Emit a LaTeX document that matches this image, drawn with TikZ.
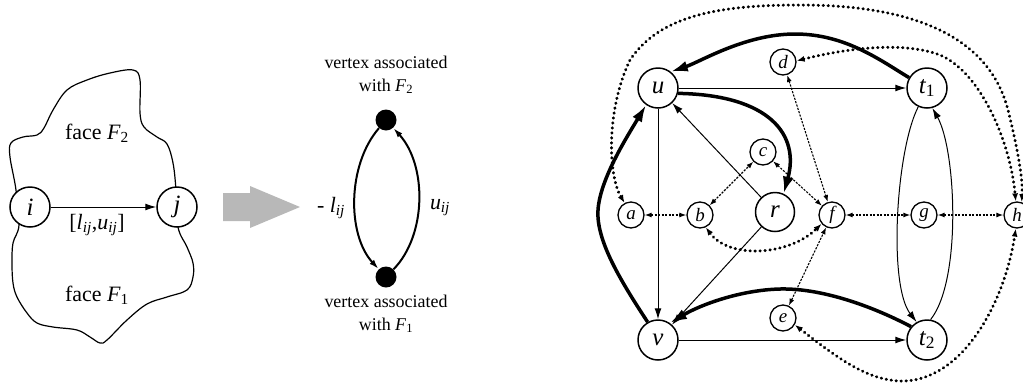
\documentclass[tikz,border=0pt]{standalone}
\usepackage{fontspec}
\setmainfont{Liberation Serif}
\usetikzlibrary{arrows.meta}
\newcommand{\isub}[2]{\textit{#1}\textsubscript{\textit{#2}}}
\newcommand{\rsub}[2]{\textit{#1}\textsubscript{#2}}
\tikzset{
 bignode/.style={circle, draw, fill=white, line width=1.5bp, minimum size=40bp, inner sep=0pt, font=\fontsize{25}{25}\selectfont\itshape},
 smallnode/.style={circle, draw, fill=white, line width=1.3bp, minimum size=26bp, inner sep=0pt, font=\fontsize{19}{19}\selectfont\itshape},
 dotnode/.style={circle, fill=black, minimum size=21bp, inner sep=0pt},
 thinarrow/.style={line width=1bp, -{Latex[length=11bp,width=7bp]}},
 heavyarrow/.style={line width=3.5bp, -{Latex[length=17bp,width=11bp]}},
 dasharrow/.style={line width=1.1bp, dash pattern=on 2.2bp off 1.3bp, {Latex[length=7bp,width=5bp]}-{Latex[length=7bp,width=5bp]}},
 dotarrow/.style={line width=3bp, dash pattern=on 0.4bp off 4.6bp, line cap=round, {Latex[length=8bp,width=6bp]}-{Latex[length=8bp,width=6bp]}},
 midarrow/.style={line width=2bp, -{Latex[length=10bp,width=6bp]}},
 lbl/.style={font=\fontsize{22}{22}\selectfont, inner sep=0pt},
 vlbl/.style={font=\fontsize{18}{23}\selectfont, align=center, inner sep=0pt},
}
\begin{document}
\begin{tikzpicture}[x=1bp,y=-1bp]
\useasboundingbox (0,0) rectangle (1023,383);
% ---------- left: face picture ----------
\draw[line width=1.2bp] plot[smooth cycle, tension=0.6] coordinates {
 (16,190) (10,157) (11,143) (23,137) (37,135) (44,128) (53,110) (67,90) (87,80) (110,73)
 (133,70) (140,80) (140,113) (144,127) (157,137) (167,144) (173,163) (176,190) (178,227)
 (187,247) (193,263) (193,277) (187,290) (167,297) (147,304) (127,320) (107,340) (100,343)
 (90,337) (77,330) (53,327) (37,323) (27,313) (17,297) (13,283) (12,263) (13,243) (19,225)};
\node[bignode] (i) at (30,207) {i};
\node[bignode] (j) at (177,207) {j};
\draw[thinarrow] (i) -- (j);
\node[lbl] (lij) at (97,225) {[\isub{l}{ij},\isub{u}{ij}]};
\node[lbl] (F2) at (97,133) {face \rsub{F}{2}};
\node[lbl] (F1) at (97,295) {face \rsub{F}{1}};
% gray block arrow
\fill[black!28] (223,193) -- (250,193) -- (250,186) -- (300,207) -- (250,228) -- (250,221) -- (223,221) -- cycle;
% ---------- middle ----------
\node[dotnode] (top) at (386,120) {};
\node[dotnode] (bot) at (386,277) {};
\draw[midarrow] (top) .. controls (347,165) and (347,235) .. (bot);
\draw[midarrow] (bot) .. controls (427,235) and (427,165) .. (top);
\node[lbl] (ml) at (331,208) {- \isub{l}{ij}};
\node[lbl] (mu) at (440,208) {\isub{u}{ij}};
\node[vlbl] (vt) at (386,75) {vertex associated\\with \rsub{F}{2}};
\node[vlbl] (vb) at (386,314) {vertex associated\\with \rsub{F}{1}};
% ---------- right graph ----------
\node[bignode] (u) at (658,88) {u};
\node[bignode] (t1) at (927,88) {t\textsubscript{\upshape 1}};
\node[bignode] (v) at (658,340) {v};
\node[bignode] (t2) at (927,340) {t\textsubscript{\upshape 2}};
\node[bignode, minimum size=39bp] (r) at (775,212) {r};
\node[smallnode] (a) at (631,215) {a};
\node[smallnode] (b) at (700,215) {b};
\node[smallnode] (c) at (763,152) {c};
\node[smallnode] (d) at (783,62) {d};
\node[smallnode] (e) at (783,318) {e};
\node[smallnode] (f) at (832,215) {f};
\node[smallnode] (g) at (924,215) {g};
\node[smallnode] (h) at (1017,215) {h};
% thin arcs
\draw[thinarrow] (u) -- (t1);
\draw[thinarrow] (u) -- (v);
\draw[thinarrow] (v) -- (t2);
\draw[thinarrow] (r) -- (u);
\draw[thinarrow] (r) -- (v);
\draw[thinarrow] (t1.245) .. controls (896,150) and (888,285) .. (t2.120);
\draw[thinarrow] (t2.80) .. controls (962,280) and (956,150) .. (t1.-75);
% heavy arcs
\draw[heavyarrow] (t1.150) .. controls (880,60) and (845,34) .. (795,34) .. controls (745,34) and (700,62) .. (u.52);
\draw[heavyarrow] (u.-15) .. controls (770,95) and (800,135) .. (r.65);
\draw[heavyarrow] (v.120) .. controls (620,280) and (596,240) .. (598,210) .. controls (600,180) and (625,140) .. (u.235);
\draw[heavyarrow] (t2.140) .. controls (870,305) and (820,288) .. (780,289) .. controls (740,290) and (700,305) .. (v.55);
% dashed arcs
\draw[dasharrow] (a) -- (b);
\draw[dasharrow] (b) -- (c);
\draw[dasharrow] (c) -- (f);
\draw[dasharrow] (d) -- (f);
\draw[dasharrow] (f) -- (g);
\draw[dasharrow] (g) -- (h);
\draw[dasharrow] (e) -- (f);
% dotted arcs
\draw[dotarrow] (a.118) .. controls (608,175) and (606,110) .. (630,60) .. controls (660,15) and (720,5) .. (800,5) .. controls (920,5) and (990,40) .. (1008,110) .. controls (1018,150) and (1023,180) .. (h.70);
\draw[dotarrow] (d.5) .. controls (840,50) and (900,40) .. (940,55) .. controls (980,72) and (1010,140) .. (h.95);
\draw[dotarrow] (b.-65) .. controls (730,260) and (790,255) .. (f.220);
\draw[dotarrow] (e.-30) .. controls (840,360) and (870,382) .. (905,381) .. controls (965,378) and (1005,300) .. (h.-95);
\end{tikzpicture}
\end{document}
